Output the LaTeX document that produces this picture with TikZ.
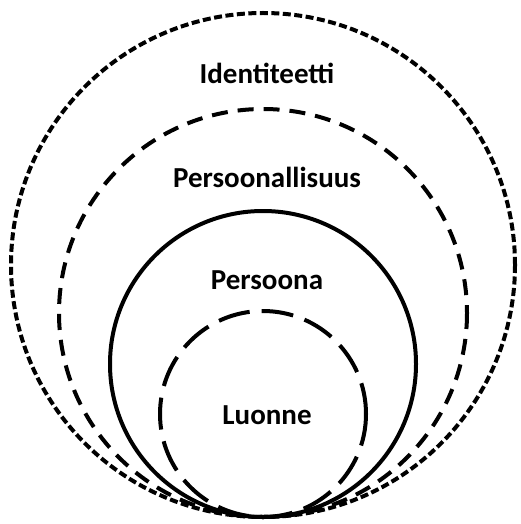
\documentclass[tikz,border=0pt]{standalone}
\usepackage{fontspec}
\setmainfont{Carlito}
\usetikzlibrary{positioning}

\begin{document}
\begin{tikzpicture}[x=1pt,y=-1pt,line width=4pt,font=\fontsize{29}{32}\selectfont\bfseries]
\tikzstyle{lbl}=[inner sep=0pt]
\useasboundingbox (0,0) rectangle (520,524);
% rings, all touching at the bottom
\draw[dash pattern=on 8pt off 3.5pt] (263,265) circle (252);
\draw[dash pattern=on 16pt off 10pt] (263,313) circle (204);
\draw (263,364) circle (153);
\draw[dash pattern=on 32pt off 12pt] (263,414) circle (103);
\node[lbl] (ident) at (267,73) {Identiteetti};
\node[lbl] (pers) at (267,177) {Persoonallisuus};
\node[lbl] (persona) at (267,280) {Persoona};
\node[lbl] (luonne) at (267,415) {Luonne};
\end{tikzpicture}
\end{document}
